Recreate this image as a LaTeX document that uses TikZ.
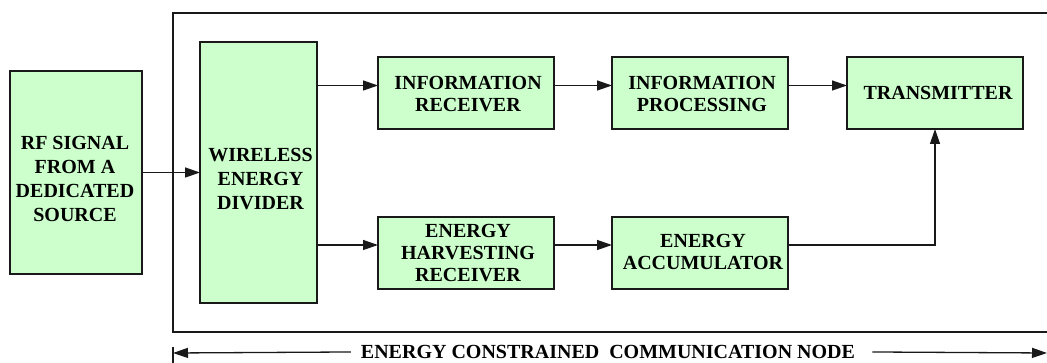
\documentclass[tikz,border=0pt]{standalone}
\usepackage{fontspec}
\setmainfont{Liberation Serif}
\usetikzlibrary{arrows.meta,calc}
\definecolor{boxgreen}{RGB}{204,255,204}
\definecolor{edge}{RGB}{25,25,25}
\tikzset{
  block/.style={draw=edge, fill=boxgreen, line width=1.5pt, inner sep=0pt, outer sep=0pt},
  txt/.style={align=center, inner sep=0pt, font=\bfseries\fontsize{20}{22}\selectfont},
  tall/.style={txt, font=\bfseries\fontsize{20}{24}\selectfont},
  arr/.style={draw=edge, line width=1.3pt, -{Triangle[length=15pt,width=10pt]}},
  frame/.style={draw=edge, line width=1.4pt}
}
\begin{document}
\begin{tikzpicture}[x=1pt,y=-1pt]
\useasboundingbox (0,0) rectangle (1047,363);

% enclosing frame of the node (open on the right side)
\draw[frame] (1047,13) -- (173,13) -- (173,332) -- (1047,332);

% blocks
\node[block, minimum width=132pt, minimum height=203pt] (rf)  at (76,172.5) {};
\node[block, minimum width=117pt, minimum height=261pt] (wed) at (258.5,172.5) {};
\node[block, minimum width=176pt, minimum height=72pt]  (ir)  at (466,93) {};
\node[block, minimum width=176pt, minimum height=72pt]  (eh)  at (466,253) {};
\node[block, minimum width=176pt, minimum height=72pt]  (ip)  at (700,93) {};
\node[block, minimum width=176pt, minimum height=72pt]  (acc) at (700,253) {};
\node[block, minimum width=176pt, minimum height=72pt]  (tx)  at (935,93) {};

% block texts
\node[tall] (rft)  at ([xshift=-1pt,yshift=-6pt]rf.center) {RF SIGNAL\\FROM A\\DEDICATED\\SOURCE};
\node[tall] (wedt) at ([xshift=2pt,yshift=-7pt]wed.center) {WIRELESS\\ENERGY\\DIVIDER};
\node[txt]  (irt)  at ([xshift=2pt,yshift=-1pt]ir.center) {INFORMATION\\RECEIVER};
\node[txt]  (eht)  at ([xshift=2pt]eh.center) {ENERGY\\HARVESTING\\RECEIVER};
\node[txt]  (ipt)  at ([xshift=2pt,yshift=-1pt]ip.center) {INFORMATION\\PROCESSING};
\node[txt]  (acct) at ([xshift=3pt,yshift=1pt]acc.center) {ENERGY\\ACCUMULATOR};
\node[txt]  (txt)  at ([xshift=3pt]tx.center) {TRANSMITTER};

% connectors
\coordinate (irin) at ([yshift=7.5pt]ir.west);
\coordinate (ehin) at ([yshift=8pt]eh.west);
\draw[arr] (rf.east) -- (wed.west);
\draw[arr] (wed.east |- irin) -- (irin);
\draw[arr] (wed.east |- ehin) -- (ehin);
\draw[arr] ([yshift=7.5pt]ir.east) -- ([yshift=7.5pt]ip.west);
\draw[arr] ([yshift=7.5pt]ip.east) -- ([yshift=7.5pt]tx.west);
\draw[arr] ([yshift=8pt]eh.east) -- ([yshift=8pt]acc.west);
\draw[arr] ([yshift=8pt]acc.east) -| (tx.south);

% span of the node below the frame
\coordinate (bl) at (173,353);
\coordinate (br) at (1047,353);
\node[txt, anchor=base, inner xsep=10pt] (lbl) at (608,358.5) {ENERGY CONSTRAINED\ \ COMMUNICATION NODE};
\draw[frame] ([yshift=6pt]bl) -- ([yshift=-10pt]bl);
\draw[arr] (lbl.west) -- (bl);
\draw[arr] ([xshift=7pt]lbl.east) -- (br);
\end{tikzpicture}
\end{document}
